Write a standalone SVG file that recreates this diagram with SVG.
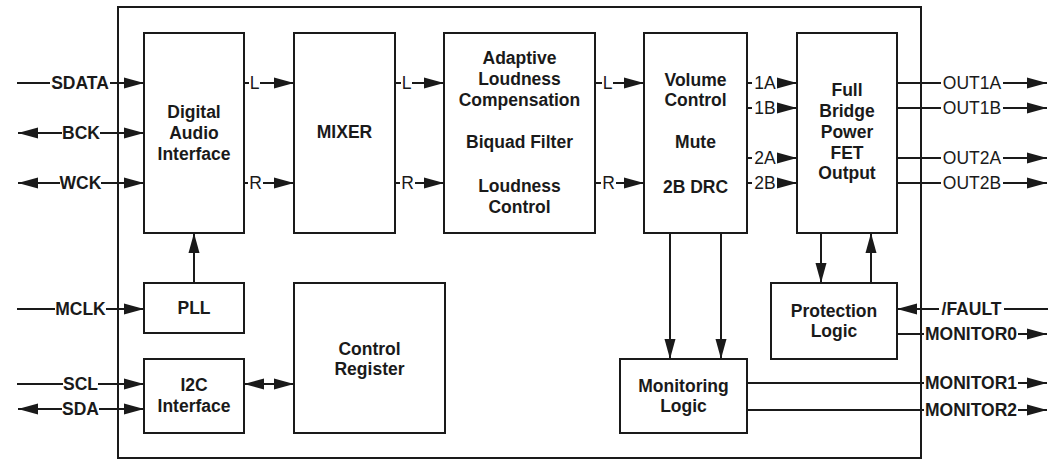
<svg xmlns="http://www.w3.org/2000/svg" width="1053" height="461" viewBox="0 0 1053 461">
<style>
.box{fill:#fff;stroke:#1a1a1a;stroke-width:2}
.frame{fill:none;stroke:#1a1a1a;stroke-width:2}
.w{stroke:#1a1a1a;stroke-width:2;fill:none}
.a{marker-end:url(#ah)}
.b{marker-start:url(#ah)}
text{font-family:"Liberation Sans",Arial,sans-serif;font-size:17.5px;fill:#1a1a1a;text-anchor:middle}
.t{font-weight:bold}
.s{font-weight:bold}
.r{font-weight:normal}
</style>
<defs>
<marker id="ah" markerUnits="userSpaceOnUse" markerWidth="20" markerHeight="12" refX="20" refY="6" orient="auto-start-reverse" viewBox="0 0 20 12">
<path d="M0,0.5 L20,6 L0,11.5 z" fill="#1a1a1a"/>
</marker>
</defs>
<rect width="1053" height="461" fill="#fff"/>
<rect id="chip" class="frame" x="118" y="7" width="803" height="451"/>

<g id="dai"><rect class="box" x="144" y="33" width="100" height="200"/>
<text class="t" x="194" y="118">Digital</text><text class="t" x="194" y="139">Audio</text><text class="t" x="194" y="160">Interface</text></g>
<g id="mixer"><rect class="box" x="294" y="33" width="101" height="200"/>
<text class="t" x="344.5" y="138">MIXER</text></g>
<g id="alc"><rect class="box" x="444" y="33" width="151" height="200"/>
<text class="t" x="519.5" y="64">Adaptive</text><text class="t" x="519.5" y="85">Loudness</text><text class="t" x="519.5" y="106">Compensation</text>
<text class="t" x="519.5" y="148">Biquad Filter</text>
<text class="t" x="519.5" y="192">Loudness</text><text class="t" x="519.5" y="213">Control</text></g>
<g id="volume"><rect class="box" x="644" y="33" width="103" height="200"/>
<text class="t" x="695.5" y="86">Volume</text><text class="t" x="695.5" y="106">Control</text>
<text class="t" x="695.5" y="148">Mute</text><text class="t" x="695.5" y="193">2B DRC</text></g>
<g id="fet"><rect class="box" x="797" y="33" width="100" height="200"/>
<text class="t" x="847" y="96">Full</text><text class="t" x="847" y="117">Bridge</text><text class="t" x="847" y="138">Power</text><text class="t" x="847" y="159">FET</text><text class="t" x="847" y="179">Output</text></g>
<g id="pll"><rect class="box" x="144" y="283" width="100" height="50"/>
<text class="t" x="194" y="314">PLL</text></g>
<g id="i2c"><rect class="box" x="144" y="359" width="100" height="74"/>
<text class="t" x="194" y="391">I2C</text><text class="t" x="194" y="412">Interface</text></g>
<g id="ctrlreg"><rect class="box" x="294" y="283" width="151" height="150"/>
<text class="t" x="369.5" y="355">Control</text><text class="t" x="369.5" y="375">Register</text></g>
<g id="monlogic"><rect class="box" x="620" y="359" width="127" height="74"/>
<text class="t" x="683.5" y="392">Monitoring</text><text class="t" x="683.5" y="412">Logic</text></g>
<g id="protlogic"><rect class="box" x="771" y="283" width="126" height="76"/>
<text class="t" x="834" y="317">Protection</text><text class="t" x="834" y="337">Logic</text></g>

<g id="connectors">
<line class="w" x1="17" y1="83" x2="50" y2="83"/><line class="w a" x1="110" y1="83" x2="144" y2="83"/>
<line class="w b" x1="18" y1="133" x2="62" y2="133"/><line class="w a" x1="100" y1="133" x2="144" y2="133"/>
<line class="w b" x1="18" y1="183" x2="60" y2="183"/><line class="w a" x1="101" y1="183" x2="144" y2="183"/>
<line class="w" x1="17" y1="309" x2="55" y2="309"/><line class="w a" x1="106" y1="309" x2="144" y2="309"/>
<line class="w" x1="17" y1="384" x2="63" y2="384"/><line class="w a" x1="98" y1="384" x2="144" y2="384"/>
<line class="w b" x1="18" y1="409" x2="62" y2="409"/><line class="w a" x1="99" y1="409" x2="144" y2="409"/>
<line class="w" x1="244" y1="83" x2="249" y2="83"/><line class="w a" x1="260" y1="83" x2="294" y2="83"/>
<line class="w" x1="244" y1="183" x2="248" y2="183"/><line class="w a" x1="263" y1="183" x2="294" y2="183"/>
<line class="w" x1="395" y1="83" x2="401" y2="83"/><line class="w a" x1="412" y1="83" x2="444" y2="83"/>
<line class="w" x1="395" y1="183" x2="400" y2="183"/><line class="w a" x1="415" y1="183" x2="444" y2="183"/>
<line class="w" x1="595" y1="83" x2="602" y2="83"/><line class="w a" x1="613" y1="83" x2="644" y2="83"/>
<line class="w" x1="595" y1="183" x2="601" y2="183"/><line class="w a" x1="616" y1="183" x2="644" y2="183"/>
<line class="w" x1="747" y1="83" x2="752" y2="83"/><line class="w a" x1="777" y1="83" x2="797" y2="83"/>
<line class="w" x1="747" y1="108" x2="752" y2="108"/><line class="w a" x1="777" y1="108" x2="797" y2="108"/>
<line class="w" x1="747" y1="158" x2="752" y2="158"/><line class="w a" x1="777" y1="158" x2="797" y2="158"/>
<line class="w" x1="747" y1="183" x2="752" y2="183"/><line class="w a" x1="777" y1="183" x2="797" y2="183"/>
<line class="w" x1="897" y1="83" x2="941" y2="83"/><line class="w a" x1="1003" y1="83" x2="1047" y2="83"/>
<line class="w" x1="897" y1="108" x2="941" y2="108"/><line class="w a" x1="1003" y1="108" x2="1047" y2="108"/>
<line class="w" x1="897" y1="158" x2="941" y2="158"/><line class="w a" x1="1003" y1="158" x2="1047" y2="158"/>
<line class="w" x1="897" y1="183" x2="941" y2="183"/><line class="w a" x1="1003" y1="183" x2="1047" y2="183"/>
<line class="w a" x1="194" y1="283" x2="194" y2="233"/>
<line class="w a b" x1="244" y1="384" x2="294" y2="384"/>
<line class="w a" x1="670" y1="233" x2="670" y2="359"/>
<line class="w a" x1="721" y1="233" x2="721" y2="359"/>
<line class="w a" x1="821" y1="233" x2="821" y2="283"/>
<line class="w a" x1="871" y1="283" x2="871" y2="233"/>
<line class="w" x1="1048" y1="309" x2="1004" y2="309"/><line class="w a" x1="939" y1="309" x2="897" y2="309"/>
<line class="w" x1="897" y1="334" x2="924" y2="334"/><line class="w a" x1="1018" y1="334" x2="1047" y2="334"/>
<line class="w" x1="747" y1="383" x2="924" y2="383"/><line class="w a" x1="1018" y1="383" x2="1047" y2="383"/>
<line class="w" x1="747" y1="410" x2="924" y2="410"/><line class="w a" x1="1018" y1="410" x2="1047" y2="410"/>
</g>

<g id="labels">
<text class="s" x="80" y="89">SDATA</text>
<text class="s" x="81" y="139">BCK</text>
<text class="s" x="80.5" y="189">WCK</text>
<text class="s" x="80.5" y="315">MCLK</text>
<text class="s" x="80.5" y="390">SCL</text>
<text class="s" x="80.5" y="415">SDA</text>
<text class="r" x="254.5" y="89">L</text><text class="r" x="255.5" y="189">R</text>
<text class="r" x="406.5" y="89">L</text><text class="r" x="407.5" y="189">R</text>
<text class="r" x="607.5" y="89">L</text><text class="r" x="608.5" y="189">R</text>
<text class="r" x="765" y="89">1A</text><text class="r" x="765" y="114">1B</text>
<text class="r" x="765" y="164">2A</text><text class="r" x="765" y="189">2B</text>
<text class="r" x="972" y="89">OUT1A</text><text class="r" x="972" y="114">OUT1B</text>
<text class="r" x="972" y="164">OUT2A</text><text class="r" x="972" y="189">OUT2B</text>
<text class="s" x="971.5" y="315">/FAULT</text>
<text class="s" x="971" y="340">MONITOR0</text>
<text class="s" x="971" y="389">MONITOR1</text>
<text class="s" x="971" y="416">MONITOR2</text>
</g>
</svg>
